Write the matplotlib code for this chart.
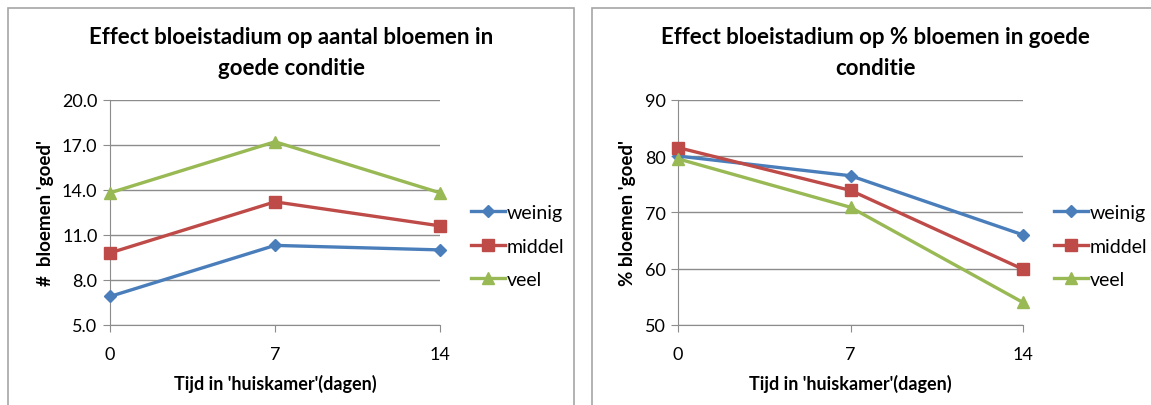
import matplotlib
matplotlib.use("Agg")
import matplotlib.pyplot as plt
from matplotlib.patches import Rectangle

plt.rcParams['font.family'] = ['Lato', 'DejaVu Sans']

dagen = [0, 7, 14]
series = ['weinig', 'middel', 'veel']

# aantal bloemen in goede conditie
aantal_weinig = [6.9, 10.3, 10.0]
aantal_middel = [9.8, 13.2, 11.6]
aantal_veel = [13.8, 17.2, 13.8]

# percentage bloemen in goede conditie
pct_weinig = [80.0, 76.5, 66.0]
pct_middel = [81.5, 73.9, 59.9]
pct_veel = [79.5, 70.9, 54.0]

colors = ['#4A7EBB', '#BE4B48', '#98B954']
markers = ['D', 's', '^']
msizes = [6, 8, 8]

W, H = 1151, 406
fig = plt.figure(figsize=(W / 100, H / 100), dpi=100)

grid_c = '#8c8c8c'


def panel(x0, x1, left, right, data, ylim, yticks, fmt, title, ylabel):
    # grey frame around each chart
    fig.add_artist(Rectangle((x0 / W, -0.05), (x1 - x0) / W, (H - 9) / H + 0.05,
                             transform=fig.transFigure, fill=False,
                             edgecolor='#a6a6a6', lw=1.2))
    fig.text((x0 + x1) / 2 / W, 1 - 53 / H, title, ha='center', va='center',
             fontsize=16, fontweight='bold', linespacing=1.6)

    ax = fig.add_axes([left / W, (H - 326) / H, (right - left) / W, 225.3 / H])
    for vals, name, c, m, ms in zip(data, series, colors, markers, msizes):
        ax.plot(dagen, vals, color=c, lw=2.4, marker=m, ms=ms, label=name,
                clip_on=False, zorder=3)
    ax.set_xlim(0, 14)
    ax.set_ylim(*ylim)
    ax.set_xticks(dagen)
    ax.set_yticks(yticks)
    ax.set_yticklabels([fmt.format(v) for v in yticks])
    ax.yaxis.grid(True, color=grid_c, lw=1)
    ax.set_axisbelow(True)
    for s in ['top', 'right']:
        ax.spines[s].set_visible(False)
    for s in ['left', 'bottom']:
        ax.spines[s].set_color(grid_c)
    ax.tick_params(axis='both', colors=grid_c, length=5, labelcolor='black',
                   labelsize=13)
    ax.tick_params(axis='x', pad=10)
    ax.tick_params(axis='y', pad=4)
    ax.set_xlabel("Tijd in 'huiskamer'(dagen)", fontsize=13, fontweight='bold',
                  labelpad=9)
    ax.set_ylabel(ylabel, fontsize=13.5, fontweight='bold', labelpad=6)
    ax.legend(loc='center left',
              bbox_to_anchor=((right + 31 - left) / (right - left), 0.35),
              frameon=False, fontsize=14, handlelength=1.75, handletextpad=0.1,
              labelspacing=0.85, borderaxespad=0, borderpad=0)
    return ax


panel(8, 574, 110, 440, [aantal_weinig, aantal_middel, aantal_veel], (5, 20),
      [5, 8, 11, 14, 17, 20], '{:.1f}',
      'Effect bloeistadium op aantal bloemen in\ngoede conditie',
      "#  bloemen 'goed'")
panel(592, 1158, 678, 1023, [pct_weinig, pct_middel, pct_veel], (50, 90),
      [50, 60, 70, 80, 90], '{:.0f}',
      'Effect bloeistadium op % bloemen in goede\nconditie',
      "% bloemen 'goed'")

fig.savefig('out.png', dpi=100)
